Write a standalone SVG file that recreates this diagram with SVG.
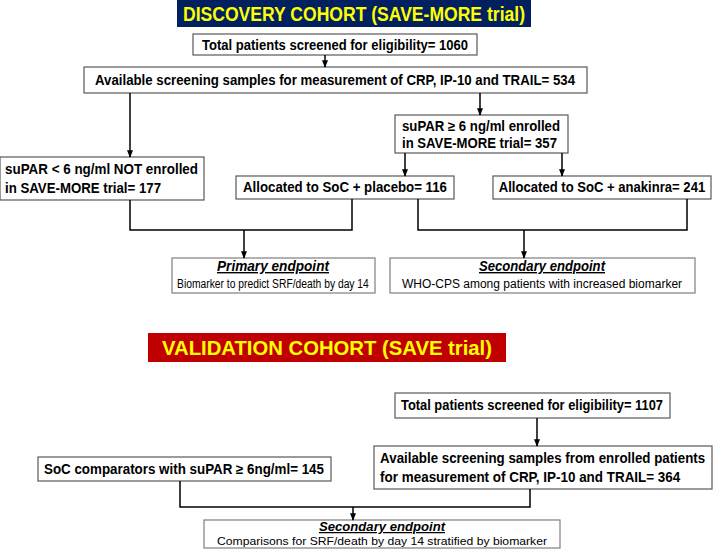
<svg xmlns="http://www.w3.org/2000/svg" width="713" height="549" viewBox="0 0 713 549">
<style>
.box{fill:#fff;stroke:#595959;stroke-width:1.2}
.ebox{fill:#fff;stroke:#7f7f7f;stroke-width:1.2}
.t{font-family:"Liberation Sans",Arial,sans-serif;font-weight:bold;font-size:14px;fill:#000}
.n{font-family:"Liberation Sans",Arial,sans-serif;font-size:13.5px;fill:#000}
.h{font-family:"Liberation Sans",Arial,sans-serif;font-weight:bold;font-style:italic;text-decoration:underline;font-size:14px;fill:#000}
.title{font-family:"Liberation Sans",Arial,sans-serif;font-weight:bold;font-size:20px;fill:#FFFF00}
.ln{fill:none;stroke:#000;stroke-width:1.5}
</style>
<defs>
<marker id="ar" viewBox="0 0 10 10" refX="9" refY="5" markerWidth="5" markerHeight="5" orient="auto">
<path d="M0,1 L10,5 L0,9 z" fill="#000"/>
</marker>
</defs>
<rect width="713" height="549" fill="#fff"/>

<g id="title1">
<rect x="177" y="0" width="354" height="27" fill="#002060"/>
<text class="title" x="354" y="21" text-anchor="middle" textLength="342" lengthAdjust="spacingAndGlyphs">DISCOVERY COHORT (SAVE-MORE trial)</text>
</g>

<g id="n1060">
<rect class="box" x="193" y="34" width="284" height="21"/>
<text class="t" x="335" y="50" text-anchor="middle" textLength="266" lengthAdjust="spacingAndGlyphs">Total patients screened for eligibility= 1060</text>
</g>
<g id="n534">
<rect class="box" x="84" y="67" width="503" height="26"/>
<text class="t" x="335" y="85" text-anchor="middle" textLength="480" lengthAdjust="spacingAndGlyphs">Available screening samples for  measurement of CRP, IP-10 and TRAIL= 534</text>
</g>
<g id="n357">
<rect class="box" x="395" y="115" width="173" height="38"/>
<text class="t" x="402" y="131" textLength="158" lengthAdjust="spacingAndGlyphs">suPAR ≥ 6 ng/ml enrolled</text>
<text class="t" x="402" y="148" textLength="155" lengthAdjust="spacingAndGlyphs">in SAVE-MORE trial= 357</text>
</g>
<g id="n177">
<rect class="box" x="0" y="157" width="204" height="43"/>
<text class="t" x="5" y="174" textLength="193" lengthAdjust="spacingAndGlyphs">suPAR &lt; 6 ng/ml NOT enrolled</text>
<text class="t" x="5" y="193" textLength="156" lengthAdjust="spacingAndGlyphs">in SAVE-MORE trial= 177</text>
</g>
<g id="n116">
<rect class="box" x="236" y="176" width="218" height="23"/>
<text class="t" x="345" y="192" text-anchor="middle" textLength="204" lengthAdjust="spacingAndGlyphs">Allocated to SoC + placebo= 116</text>
</g>
<g id="n241">
<rect class="box" x="493" y="176" width="218" height="23"/>
<text class="t" transform="scale(0.86,1)" x="700" y="192" text-anchor="middle" textLength="240" lengthAdjust="spacingAndGlyphs">Allocated to SoC + anakinra= 241</text>
</g>
<g id="primary">
<rect class="ebox" x="172" y="258" width="203" height="35"/>
<text class="h" x="273" y="271" text-anchor="middle" textLength="112" lengthAdjust="spacingAndGlyphs">Primary endpoint</text>
<text class="n" transform="scale(0.77,1)" x="354.5" y="288" text-anchor="middle" textLength="249" lengthAdjust="spacingAndGlyphs">Biomarker to predict SRF/death by day 14</text>
</g>
<g id="secondary1">
<rect class="ebox" x="390" y="258" width="305" height="35"/>
<text class="h" x="542" y="271" text-anchor="middle" textLength="126" lengthAdjust="spacingAndGlyphs">Secondary endpoint</text>
<text class="n" x="542" y="288" text-anchor="middle" style="font-size:12px">WHO-CPS among patients with increased biomarker</text>
</g>

<g id="title2">
<rect x="148" y="333" width="358" height="29" fill="#C00000"/>
<text class="title" x="327" y="355" text-anchor="middle" textLength="330" lengthAdjust="spacingAndGlyphs">VALIDATION COHORT (SAVE trial)</text>
</g>
<g id="n1107">
<rect class="box" x="395" y="393" width="275" height="25"/>
<text class="t" x="532" y="410" text-anchor="middle" textLength="262" lengthAdjust="spacingAndGlyphs">Total patients screened for eligibility= 1107</text>
</g>
<g id="n364">
<rect class="box" x="374" y="446" width="338" height="43"/>
<text class="t" transform="scale(0.86,1)" x="442" y="463" textLength="378" lengthAdjust="spacingAndGlyphs">Available screening samples from enrolled patients</text>
<text class="t" transform="scale(0.86,1)" x="442" y="482" textLength="349" lengthAdjust="spacingAndGlyphs">for measurement of CRP, IP-10 and TRAIL= 364</text>
</g>
<g id="n145">
<rect class="box" x="38" y="457" width="293" height="24"/>
<text class="t" x="184" y="474" text-anchor="middle" textLength="280" lengthAdjust="spacingAndGlyphs">SoC comparators with suPAR ≥ 6ng/ml= 145</text>
</g>
<g id="secondary2">
<rect class="ebox" x="204" y="520" width="356" height="28"/>
<text class="h" x="382" y="531" text-anchor="middle" style="font-size:12.5px" textLength="126" lengthAdjust="spacingAndGlyphs">Secondary endpoint</text>
<text class="n" x="382" y="545" text-anchor="middle" style="font-size:11px" textLength="330" lengthAdjust="spacingAndGlyphs">Comparisons for SRF/death by day 14 stratified by biomarker</text>
</g>

<g id="connectors">
<line class="ln" x1="325" y1="55" x2="325" y2="67" marker-end="url(#ar)"/>
<line class="ln" x1="130" y1="93" x2="130" y2="157" marker-end="url(#ar)"/>
<line class="ln" x1="480" y1="93" x2="480" y2="115" marker-end="url(#ar)"/>
<line class="ln" x1="405" y1="153" x2="405" y2="176" marker-end="url(#ar)"/>
<line class="ln" x1="562" y1="153" x2="562" y2="176" marker-end="url(#ar)"/>
<polyline class="ln" points="130,200 130,230 352,230 352,199"/>
<line class="ln" x1="244" y1="230" x2="244" y2="258" marker-end="url(#ar)"/>
<polyline class="ln" points="418,199 418,230 687,230 687,199"/>
<line class="ln" x1="524" y1="230" x2="524" y2="258" marker-end="url(#ar)"/>
<line class="ln" x1="537" y1="418" x2="537" y2="446" marker-end="url(#ar)"/>
<polyline class="ln" points="180,481 180,507 530,507 530,489"/>
<line class="ln" x1="353" y1="507" x2="353" y2="520" marker-end="url(#ar)"/>
</g>
</svg>
